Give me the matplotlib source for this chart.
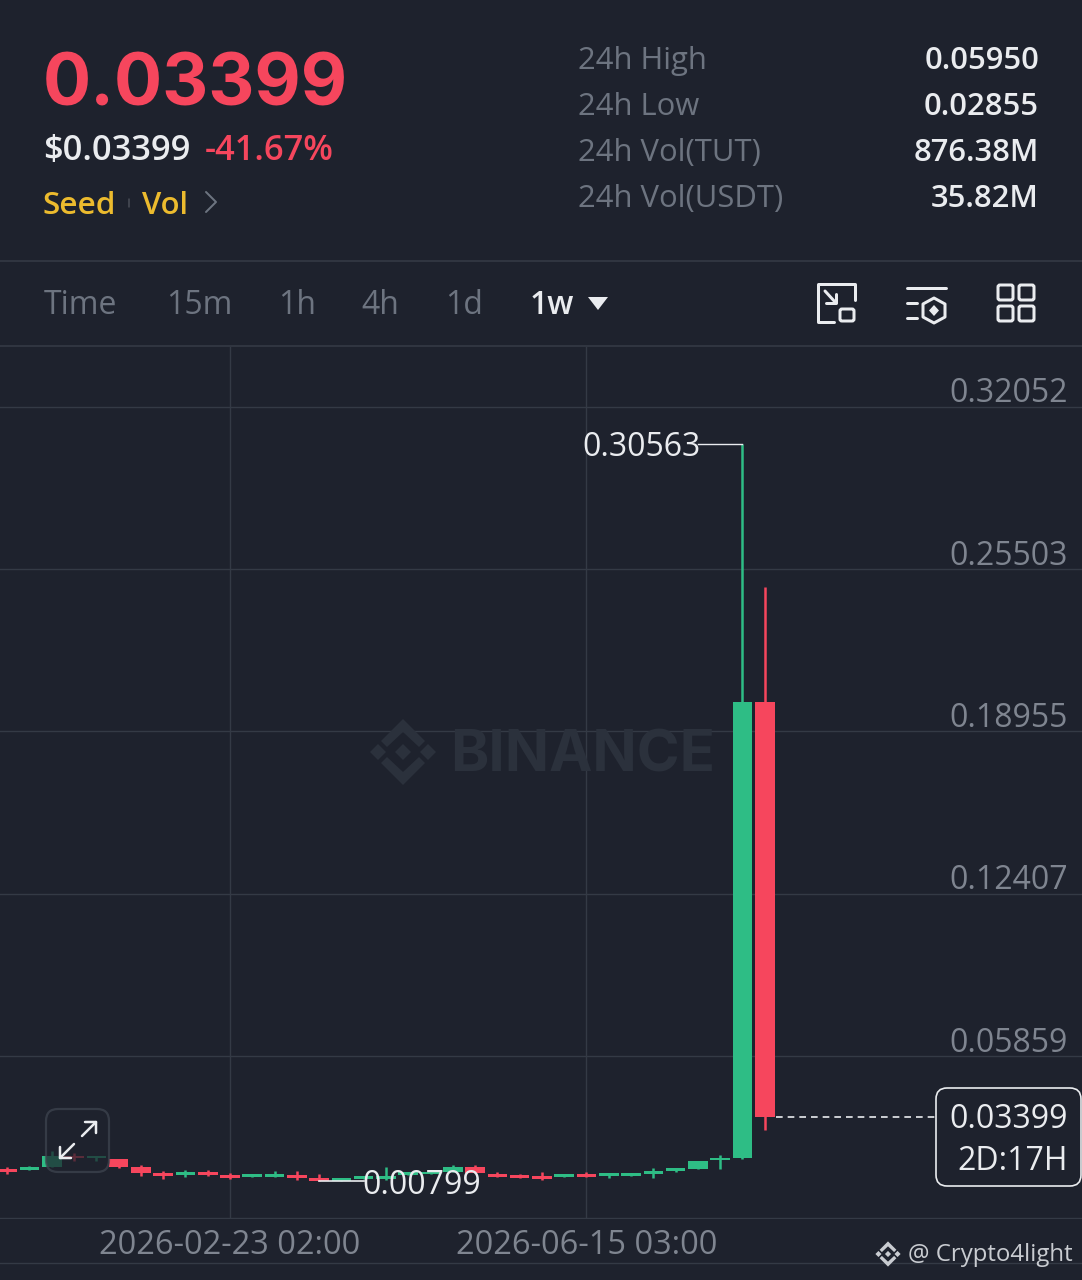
import matplotlib
matplotlib.use('Agg')
import matplotlib.pyplot as plt
from matplotlib.patches import FancyBboxPatch, Polygon

# weekly candles, week number counted from 2026-02-23
weeks = list(range(-10, 25))
opens = [0.01300, 0.01240, 0.01381, 0.01825, 0.01744, 0.01716, 0.01393, 0.01139, 0.01058, 0.01179,
         0.01058, 0.00965, 0.00978, 0.01058, 0.00937, 0.00816, 0.00897, 0.00885, 0.01058, 0.01099,
         0.01167, 0.01393, 0.01099, 0.01058, 0.01030, 0.00990, 0.01099, 0.01006, 0.01030, 0.01099,
         0.01220, 0.01288, 0.01651, 0.01756, 0.20141]
closes = [0.01179, 0.01361, 0.01825, 0.01724, 0.01825, 0.01393, 0.01151, 0.01018, 0.01191, 0.01058,
          0.00937, 0.01087, 0.01111, 0.00925, 0.00816, 0.00925, 0.01018, 0.01030, 0.01179, 0.01179,
          0.01369, 0.01127, 0.00978, 0.00937, 0.00897, 0.01111, 0.00965, 0.01127, 0.01139, 0.01220,
          0.01329, 0.01611, 0.01756, 0.20141, 0.03399]
highs = [0.01361, 0.01441, 0.02027, 0.01926, 0.01825, 0.01716, 0.01461, 0.01220, 0.01272, 0.01260,
         0.01127, 0.01087, 0.01208, 0.01232, 0.01099, 0.00925, 0.01018, 0.01369, 0.01179, 0.01179,
         0.01461, 0.01461, 0.01191, 0.01099, 0.01167, 0.01111, 0.01191, 0.01127, 0.01139, 0.01341,
         0.01329, 0.01611, 0.01853, 0.30563, 0.24781]
lows = [0.01099, 0.01240, 0.01381, 0.01623, 0.01603, 0.01353, 0.01030, 0.00897, 0.00965, 0.01030,
        0.00885, 0.00965, 0.00978, 0.00844, 0.00799, 0.00816, 0.00897, 0.00857, 0.01058, 0.01099,
        0.01167, 0.01127, 0.00978, 0.00937, 0.00844, 0.00965, 0.00965, 0.00949, 0.01030, 0.00949,
        0.01191, 0.01288, 0.01300, 0.01704, 0.02855]

price_ticks = [0.32052, 0.25503, 0.18955, 0.12407, 0.05859, -0.00689]
price_labels = ['0.32052', '0.25503', '0.18955', '0.12407', '0.05859', '']
date_ticks = [0, 16]
date_labels = ['2026-02-23 02:00', '2026-06-15 03:00']

stat_names = ['24h High', '24h Low', '24h Vol(TUT)', '24h Vol(USDT)']
stat_values = ['0.05950', '0.02855', '876.38M', '35.82M']
tabs = ['Time', '15m', '1h', '4h', '1d', '1w']
tab_x = [44, 166, 278, 361, 445, 530]

BG = '#1e222d'
GRID = '#343a45'
GREEN = '#2ebd85'
RED = '#f6465d'
GOLD = '#ecbb2e'
DIM = '#6d7480'
AXIS = '#7f8590'
WHITE = '#eaecef'
PX = 0.72  # font px to pt at dpi 100

plt.rcParams['font.family'] = ['Open Sans', 'DejaVu Sans']

fig = plt.figure(figsize=(10.82, 12.8), dpi=100, facecolor=BG)

# chart area, y from pixel 347 to 1219
ax = fig.add_axes([0, 61 / 1280, 1, 872 / 1280], facecolor=BG, zorder=1)
ax.set_xlim(-10.323, 38.24)
ax.set_ylim(-0.00717, 0.34464)
for s in ax.spines.values():
    s.set_visible(False)
ax.tick_params(left=False, bottom=False, labelleft=False, labelbottom=False)
ax.set_yticks(price_ticks)
ax.set_xticks(date_ticks)
ax.grid(True, color=GRID, lw=1.0)
ax.set_axisbelow(True)

for w, o, c, h, l in zip(weeks, opens, closes, highs, lows):
    col = GREEN if c >= o else RED
    ax.vlines(w, l, h, color=col, lw=1.8, zorder=3)
    ax.bar(w, abs(c - o), bottom=min(o, c), width=0.88, color=col, zorder=4)

# high, low and last price markers
hi = max(highs)
lo = min(lows)
ax.plot([weeks[highs.index(hi)], 21.0], [hi, hi], color=WHITE, lw=1.0, zorder=5)
ax.plot([weeks[lows.index(lo)], 6], [lo, lo], color=WHITE, lw=1.2, zorder=5)
ax.plot([24.5, 31.65], [closes[-1], closes[-1]], color=WHITE, lw=1.2, ls=(0, (4, 3)), zorder=5)

# everything else sits on a pixel overlay
ov = fig.add_axes([0, 0, 1, 1], zorder=2)
ov.set_xlim(0, 1082)
ov.set_ylim(1280, 0)
ov.axis('off')
ov.patch.set_alpha(0)


def txt(x, y, s, size, color=WHITE, ha='left', weight='normal', **kw):
    return ov.text(x, y + 3, s, fontsize=size * PX, color=color, ha=ha, va='center', weight=weight, **kw)


def line(xs, ys, color=WHITE, lw=2.5, **kw):
    ov.plot(xs, ys, color=color, lw=lw * PX, solid_capstyle='round', solid_joinstyle='round', **kw)


def binance_logo(cx, cy, r, color, z=1):
    # four small diamonds and two chevrons
    u = r / 34.0
    d = 8 * u
    for dx, dy in [(0, 0), (-25 * u, 0), (25 * u, 0)]:
        ov.add_patch(Polygon([(cx + dx, cy + dy - d), (cx + dx + d, cy + dy),
                              (cx + dx, cy + dy + d), (cx + dx - d, cy + dy)],
                             color=color, lw=0, zorder=z))
    for sgn in (-1, 1):
        ov.add_patch(Polygon([(cx - 22 * u, cy + sgn * 11 * u), (cx, cy + sgn * 33 * u),
                              (cx + 22 * u, cy + sgn * 11 * u), (cx + 16 * u, cy + sgn * 5 * u),
                              (cx, cy + sgn * 20 * u), (cx - 16 * u, cy + sgn * 5 * u)],
                             color=color, lw=0, zorder=z))


# header
ov.text(43, 86, '0.03399', fontsize=71.5 * PX, color=RED, ha='left', va='center', weight='bold',
        family=['Inter', 'DejaVu Sans'])
txt(43, 148, '$0.03399', 34.5, WHITE, weight='semibold')
txt(205, 148, '-41.67%', 34.5, RED, weight='semibold')
txt(43, 203, 'Seed', 31.5, GOLD, weight='semibold')
line([129, 129], [199, 207], color='#4a4f58', lw=1.5)
txt(142, 203, 'Vol', 31, GOLD, weight='semibold')
line([206, 216, 206], [192, 202, 212], color=DIM, lw=2)
for y, name, val in zip([58, 104, 150, 196], stat_names, stat_values):
    txt(578, y, name, 31, DIM)
    txt(1039, y, val, 31, WHITE, ha='right', weight='semibold')

ov.plot([0, 1082], [261, 261], color=GRID, lw=1.2)
ov.plot([0, 1082], [346, 346], color=GRID, lw=1.2)
ov.plot([0, 1082], [1263, 1263], color=GRID, lw=1.0)

# interval tabs
for x, t in zip(tab_x, tabs):
    txt(x, 303, t, 32, WHITE if t == '1w' else DIM, weight='semibold' if t == '1w' else 'normal')
ov.add_patch(Polygon([(588, 297), (608, 297), (598, 310)], closed=True, color=WHITE, lw=0, joinstyle='round'))

# toolbar icons
line([834, 818, 818, 855, 855], [322, 322, 284, 284, 300], lw=3)
ov.add_patch(FancyBboxPatch((840, 309), 14, 12, boxstyle='round,pad=0,rounding_size=2', fc='none', ec=WHITE, lw=3 * PX))
line([825, 836], [291, 303], lw=3)
line([836, 836, 826], [294, 303, 303], lw=3)

line([907, 946], [288, 288], lw=3)
line([907, 917], [303, 303], lw=3)
line([907, 917], [318, 318], lw=3)
ov.add_patch(Polygon([(934, 298), (945, 304), (945, 317), (934, 323), (923, 317), (923, 304)],
                     closed=True, fc='none', ec=WHITE, lw=3 * PX, joinstyle='round'))
ov.add_patch(Polygon([(934, 305), (939, 310.5), (934, 316), (929, 310.5)], closed=True, color=WHITE, lw=0))

for x in (998, 1019):
    for y in (285, 306):
        ov.add_patch(FancyBboxPatch((x, y), 15, 15, boxstyle='round,pad=0,rounding_size=2',
                                    fc='none', ec=WHITE, lw=3 * PX))

# watermark
binance_logo(403, 752, 34, '#2b313c', z=1)
ov.text(450, 756, 'BINANCE', fontsize=58 * PX, color='#2b313c', ha='left', va='center', weight='bold',
        family=['Inter', 'DejaVu Sans'], zorder=1)

# price axis and date labels
for t, lab in zip(price_ticks, price_labels):
    if lab:
        y_px = 1056 - (t - 0.05859) / 0.00040345
        txt(1068, y_px - 16, lab, 32, AXIS, ha='right')
for t, lab in zip(date_ticks, date_labels):
    txt(230 + t * 22.28, 1243, lab, 32.7, AXIS, ha='center')

# high / low labels
txt(582, 444, '0.30563', 32, WHITE, zorder=6)
txt(362, 1182, '0.00799', 32, WHITE, zorder=6)

# countdown box
ov.add_patch(FancyBboxPatch((936, 1088), 145, 98, boxstyle='round,pad=0,rounding_size=11',
                            fc=BG, ec=WHITE, lw=1.2, zorder=6))
txt(1068, 1117, '0.03399', 32, WHITE, ha='right', zorder=7)
txt(1068, 1158, '2D:17H', 32, WHITE, ha='right', zorder=7)

# expand button over the candles
ov.add_patch(FancyBboxPatch((46, 1109), 63, 63, boxstyle='round,pad=0,rounding_size=12',
                            fc=BG, ec='#3f4550', lw=1.6, alpha=0.72, zorder=6))
line([82, 96], [1136, 1122], lw=2.5, zorder=7)
line([85, 96, 96], [1122, 1122, 1133], lw=2.5, zorder=7)
line([74, 60], [1144, 1158], lw=2.5, zorder=7)
line([60, 60, 71], [1147, 1158, 1158], lw=2.5, zorder=7)

# credit
binance_logo(888, 1254, 13, '#c9ccd1', z=7)
txt(908, 1252, '@ Crypto4light', 24, '#c9ccd1', zorder=7)

fig.savefig('out.png', dpi=100, facecolor=BG)
